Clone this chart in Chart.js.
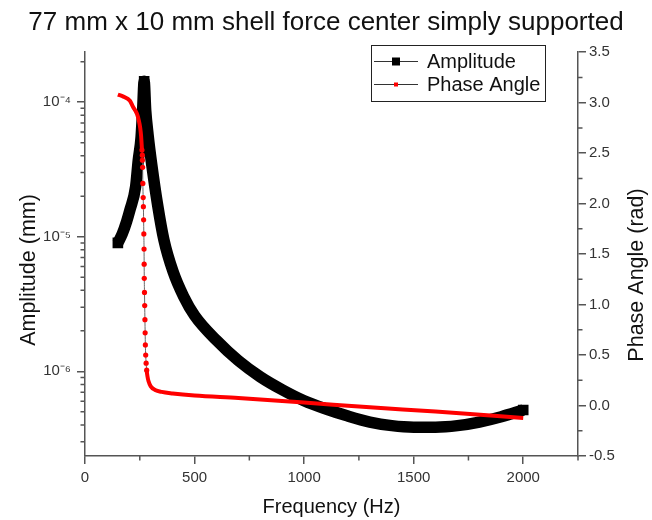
<!DOCTYPE html>
<html>
<head>
<meta charset="utf-8">
<script src="https://cdn.jsdelivr.net/npm/chart.js@4.4.1/dist/chart.umd.min.js"></script>
<style>
  html, body { margin: 0; padding: 0; background: #fff; }
</style>
</head>
<body>
<canvas id="myChart" width="652" height="520"></canvas>
<script>
/* values */
const ampFreq = [150, 170, 190, 205, 231, 243, 256, 263, 270, 277, 288, 305, 332, 360, 402, 450, 500,
  600, 700, 800, 900, 1000, 1100, 1200, 1300, 1400, 1500, 1600, 1700, 1800, 1900, 2000];
const ampVals = [9.0e-6, 1.05e-5, 1.3e-5, 1.58e-5, 2.35e-5, 3.7e-5, 5.5e-5, 8.7e-5, 1.43e-4, 8.7e-5, 5.7e-5,
  3.4e-5, 1.7e-5, 9.5e-6, 5.5e-6, 3.6e-6, 2.6e-6, 1.7e-6, 1.2e-6, 9.1e-7, 7.3e-7, 6.05e-7, 5.25e-7,
  4.65e-7, 4.2e-7, 3.95e-7, 3.85e-7, 3.85e-7, 3.95e-7, 4.2e-7, 4.6e-7, 5.16e-7];

const phaseFreq = [150, 175, 205, 219, 237, 245, 252, 256, 260, 261.5, 262, 263, 264, 265.5, 266.5, 267.5,
  268.5, 269.5, 270, 270.5, 271.5, 272.5, 273.5, 274.5, 275.5, 277, 279, 281.5, 285, 290,
  300, 320, 350, 400, 500, 700, 1000, 1300, 1600, 2000];
const phaseVals = [3.08, 3.06, 3.02, 2.96, 2.89, 2.83, 2.75, 2.67, 2.53, 2.48, 2.43, 2.36, 2.20, 2.06, 1.97, 1.84,
  1.70, 1.55, 1.40, 1.26, 1.12, 0.99, 0.85, 0.72, 0.60, 0.50, 0.42, 0.35, 0.29, 0.24,
  0.19, 0.155, 0.135, 0.12, 0.10, 0.075, 0.03, -0.018, -0.06, -0.124];

/* where the phase markers show up as separate dots */
const dotFrom = 260;
const dotTo = 281.5;

/* axes */
const xTicks = [0, 500, 1000, 1500, 2000];
const xMinor = [250, 750, 1250, 1750, 2250];
const ampTicks = [1e-6, 1e-5, 1e-4];
const ampMinor = [3e-7, 4e-7, 5e-7, 6e-7, 7e-7, 8e-7, 9e-7,
  2e-6, 3e-6, 4e-6, 5e-6, 6e-6, 7e-6, 8e-6, 9e-6,
  2e-5, 3e-5, 4e-5, 5e-5, 6e-5, 7e-5, 8e-5, 9e-5, 2e-4];
const phaseTicks = [-0.5, 0, 0.5, 1, 1.5, 2, 2.5, 3, 3.5];
const phaseMinor = [-0.25, 0.25, 0.75, 1.25, 1.75, 2.25, 2.75, 3.25];

const family = "'Liberation Sans', Arial, sans-serif";
const axisColor = '#555';
const textColor = '#333';

const sup = { '-': '\u207B', '0': '\u2070', '1': '\u00B9', '2': '\u00B2', '3': '\u00B3',
  '4': '\u2074', '5': '\u2075', '6': '\u2076', '7': '\u2077', '8': '\u2078', '9': '\u2079' };
function powLabel(v) {
  let e = String(Math.round(Math.log10(v)));
  return '10' + e.split('').map(c => sup[c]).join('');
}

/* minor ticks, placed through the scales */
const minorTicks = {
  id: 'minorTicks',
  afterDraw(chart) {
    const { ctx, chartArea, scales } = chart;
    ctx.save();
    ctx.strokeStyle = axisColor;
    ctx.lineWidth = 1.5;
    ctx.beginPath();
    xMinor.forEach(v => {
      let px = scales.x.getPixelForValue(v);
      ctx.moveTo(px, chartArea.bottom);
      ctx.lineTo(px, chartArea.bottom + 4.5);
    });
    ampMinor.forEach(v => {
      let py = scales.y.getPixelForValue(v);
      if (py < chartArea.top - 0.5 || py > chartArea.bottom + 0.5) return;
      ctx.moveTo(chartArea.left, py);
      ctx.lineTo(chartArea.left - 4.5, py);
    });
    phaseMinor.forEach(v => {
      let py = scales.y2.getPixelForValue(v);
      ctx.moveTo(chartArea.right, py);
      ctx.lineTo(chartArea.right + 4.5, py);
    });
    ctx.stroke();
    ctx.restore();
  }
};

/* both y titles read bottom to top, as in Origin */
const sideTitles = {
  id: 'sideTitles',
  afterDraw(chart) {
    const ctx = chart.ctx;
    const items = [
      { text: 'Amplitude (mm)', x: 29, y: 270 },
      { text: 'Phase Angle (rad)', x: 637, y: 275 }
    ];
    ctx.save();
    ctx.fillStyle = '#111';
    ctx.font = '21.5px ' + family;
    ctx.textAlign = 'center';
    ctx.textBaseline = 'middle';
    items.forEach(t => {
      ctx.save();
      ctx.translate(t.x, t.y);
      ctx.rotate(-Math.PI / 2);
      ctx.fillText(t.text, 0, 0);
      ctx.restore();
    });
    ctx.restore();
  }
};

/* Origin style legend box */
const boxLegend = {
  id: 'boxLegend',
  afterDraw(chart) {
    const ctx = chart.ctx;
    const bx = 371, by = 45, bw = 174, bh = 56;
    ctx.save();
    ctx.fillStyle = '#fff';
    ctx.fillRect(bx, by, bw, bh);
    ctx.strokeStyle = '#222';
    ctx.lineWidth = 1;
    ctx.strokeRect(bx + 0.5, by + 0.5, bw, bh);

    const rows = [
      { text: 'Amplitude', y: 61, marker: '#000', size: 8 },
      { text: 'Phase Angle', y: 84, marker: '#ff0000', size: 4 }
    ];
    rows.forEach(r => {
      ctx.strokeStyle = '#333';
      ctx.beginPath();
      ctx.moveTo(374, r.y + 0.5);
      ctx.lineTo(418, r.y + 0.5);
      ctx.stroke();
      ctx.fillStyle = r.marker;
      ctx.fillRect(396 - r.size / 2, r.y + 0.5 - r.size / 2, r.size, r.size);
      ctx.fillStyle = '#111';
      ctx.font = '20px ' + family;
      ctx.textBaseline = 'middle';
      ctx.textAlign = 'left';
      ctx.fillText(r.text, 427, r.y + 1);
    });
    ctx.restore();
  }
};

function inDots(f) { return f >= dotFrom && f <= dotTo; }
const peakIndex = ampVals.indexOf(Math.max(...ampVals));

let ctx = document.getElementById('myChart').getContext('2d');
let myChart = new Chart(ctx, {
  type: 'line',
  data: {
    datasets: [
      {
        label: 'Phase Angle',
        data: phaseFreq.map((f, i) => ({ x: f, y: phaseVals[i] })),
        yAxisID: 'y2',
        order: 1,
        borderColor: '#ff0000',
        borderWidth: 4,
        cubicInterpolationMode: 'monotone',
        pointStyle: 'circle',
        pointRadius: c => (c.raw && inDots(c.raw.x) ? 2.6 : 0),
        pointBackgroundColor: '#ff0000',
        pointBorderWidth: 0,
        segment: {
          borderColor: s => (inDots(s.p0.parsed.x) && inDots(s.p1.parsed.x) ? '#666' : undefined),
          borderWidth: s => (inDots(s.p0.parsed.x) && inDots(s.p1.parsed.x) ? 1 : undefined)
        }
      },
      {
        label: 'Amplitude',
        data: ampFreq.map((f, i) => ({ x: f, y: ampVals[i] })),
        yAxisID: 'y',
        order: 2,
        borderColor: '#000',
        borderWidth: 11.5,
        cubicInterpolationMode: 'monotone',
        pointStyle: 'rect',
        pointRadius: c => (c.dataIndex === 0 || c.dataIndex === ampVals.length - 1 || c.dataIndex === peakIndex ? 7.5 : 0),
        pointBackgroundColor: '#000',
        pointBorderWidth: 0
      }
    ]
  },
  options: {
    responsive: false,
    devicePixelRatio: 1,
    animation: false,
    events: [],
    layout: { padding: 0 },
    plugins: {
      legend: { display: false },
      tooltip: { enabled: false },
      title: {
        display: true,
        text: '77 mm x 10 mm shell force center simply supported',
        font: { size: 26, family: family, weight: 'normal' },
        color: '#111',
        padding: { top: 7, bottom: 14 }
      }
    },
    scales: {
      x: {
        type: 'linear',
        min: 0,
        max: 2250,
        afterBuildTicks: s => { s.ticks = xTicks.map(v => ({ value: v })); },
        afterFit: s => { s.height = 64; },
        border: { color: axisColor, width: 1.5 },
        grid: { drawOnChartArea: false, tickLength: 8, color: axisColor, lineWidth: 1.5 },
        ticks: { font: { size: 15, family: family }, color: textColor, padding: 5, maxRotation: 0, callback: v => String(v) },
        title: {
          display: true, text: 'Frequency (Hz)', color: '#111',
          font: { size: 20, family: family }, padding: { top: 0, bottom: 1 }
        }
      },
      y: {
        type: 'logarithmic',
        position: 'left',
        min: 2.35e-7,
        max: 2.35e-4,
        afterBuildTicks: s => { s.ticks = ampTicks.map(v => ({ value: v })); },
        afterFit: s => { s.width = 85; },
        border: { color: axisColor, width: 1.5 },
        grid: { drawOnChartArea: false, tickLength: 8, color: axisColor, lineWidth: 1.5 },
        ticks: { font: { size: 15, family: family }, color: textColor, padding: 6, callback: v => powLabel(v) }
      },
      y2: {
        type: 'linear',
        position: 'right',
        min: -0.5,
        max: 3.5,
        afterBuildTicks: s => { s.ticks = phaseTicks.map(v => ({ value: v })); },
        afterFit: s => { s.width = 74; },
        border: { color: axisColor, width: 1.5 },
        grid: { drawOnChartArea: false, tickLength: 8, color: axisColor, lineWidth: 1.5 },
        ticks: { font: { size: 15, family: family }, color: textColor, padding: 3, callback: v => v.toFixed(1) }
      }
    }
  },
  plugins: [minorTicks, sideTitles, boxLegend]
});
</script>
</body>
</html>
